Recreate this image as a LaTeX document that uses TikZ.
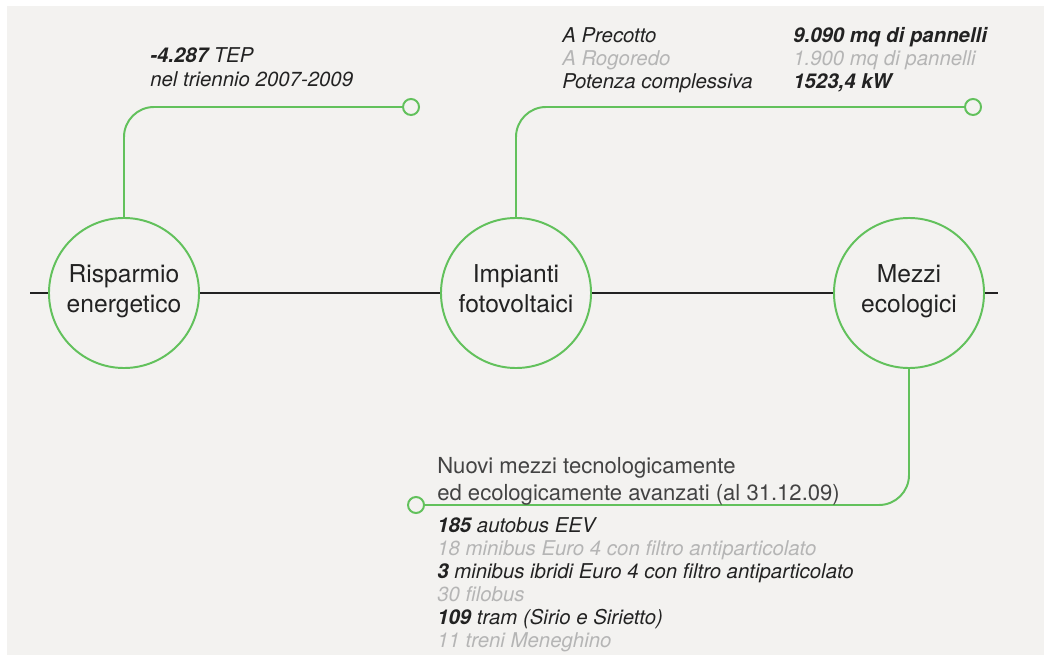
\documentclass[tikz,border=0pt]{standalone}
\usepackage{fontspec}
\setmainfont{TeX Gyre Heros}

\definecolor{paper}{HTML}{F3F2F0}
\definecolor{leaf}{HTML}{62C15C}
\definecolor{faded}{HTML}{B5B5B5}
\definecolor{ink}{HTML}{222222}

\begin{document}
\begin{tikzpicture}[x=0.025cm, y=-0.025cm,
    topic/.style={draw=leaf, line width=1.4pt, fill=paper, circle, minimum size=3.75cm, inner sep=0pt, align=center, text=ink, font=\fontsize{17.5}{21.3}\selectfont},
    dot/.style={draw=leaf, line width=1.4pt, fill=paper, circle, minimum size=0.4cm, inner sep=0pt},
    link/.style={draw=leaf, line width=1.4pt, rounded corners=0.75cm},
    info/.style={anchor=base west, inner sep=0pt, text=ink, font=\fontsize{14.5}{16.4}\selectfont\itshape},
    dim/.style={info, text=faded}]
        \useasboundingbox (0,0) rectangle (1044,655);
        \fill[paper] (7,6) rectangle (1044,655);

        % timeline
        \coordinate (lstart) at (30,293);
        \coordinate (lend) at (998,293);
        \node[topic] (risp) at (124,293) {Risparmio\\energetico\\[-15pt]};
        \node[topic] (foto) at (516,293) {Impianti\\fotovoltaici\\[-15pt]};
        \node[topic] (ecol) at (909,293) {Mezzi\\ecologici\\[-15pt]};
        \draw[ink, line width=1pt] (lstart) -- (risp) -- (foto) -- (ecol) -- (lend);

        % branches
        \node[dot] (dotA) at (411,107) {};
        \node[dot] (dotB) at (973,107) {};
        \node[dot] (dotC) at (416,505) {};
        \draw[link] (risp.north) |- (dotA);
        \draw[link] (foto.north) |- (dotB);
        \draw[link] (ecol.south) |- (dotC);

        % risparmio
        \node[info] (tep) at (150,63) {\textbf{-4.287} TEP};
        \node[info] (trien) at (150,87) {nel triennio 2007-2009};

        % fotovoltaico
        \foreach [count=\i] \txt/\val/\sty in {A Precotto/{\textbf{9.090 mq di pannelli}}/info, A Rogoredo/{1.900 mq di pannelli}/dim, Potenza complessiva/{\textbf{1523,4 kW}}/info}{
            \node[\sty] (site\i) at (562,20+23*\i) {\txt};
            \node[\sty] (qty\i) at (793,20+23*\i) {\val};
        }

        % mezzi
        \node[anchor=base west, inner sep=0pt, text=ink!85, font=\fontsize{15.7}{27}\selectfont] (head) at (437,473) {Nuovi mezzi tecnologicamente};
        \node[anchor=base west, inner sep=0pt, text=ink!85, font=\fontsize{15.7}{27}\selectfont] (head2) at (437,500) {ed ecologicamente avanzati (al 31.12.09)};
        \foreach [count=\i] \txt/\sty in {{\textbf{185} autobus EEV}/info, {18 minibus Euro 4 con filtro antiparticolato}/dim, {\textbf{3} minibus ibridi Euro 4 con filtro antiparticolato}/info, {30 filobus}/dim, {\textbf{109} tram (Sirio e Sirietto)}/info, {11 treni Meneghino}/dim}{
            \node[\sty] (item\i) at (437,509+23*\i) {\txt};
        }
\end{tikzpicture}
\end{document}
